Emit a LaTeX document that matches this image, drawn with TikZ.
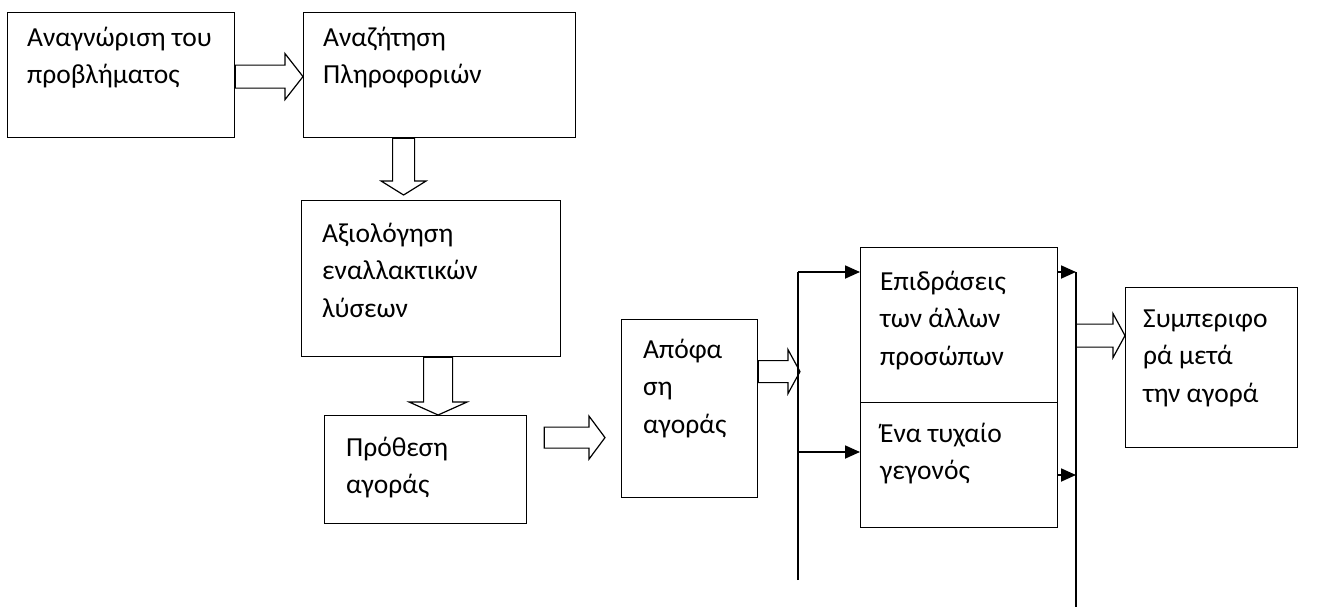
\documentclass[tikz,border=0pt]{standalone}
\usepackage{fontspec}
\setmainfont{Carlito}
\usetikzlibrary{calc,positioning,arrows.meta}

\newcommand\lns[1]{\begin{tabular}[t]{@{}l@{}}#1\end{tabular}}

\tikzset{
  box/.style={draw, line width=1.2pt, anchor=north west, inner sep=0pt},
  txt/.style={anchor=base west, inner sep=0pt, font=\fontsize{27.5}{37.5}\selectfont},
  fat/.style={draw, line width=1.2pt, fill=white, line join=miter},
  wire/.style={line width=1.8pt},
  tip/.style={-{Triangle[length=15pt,width=13pt]}},
  fatright/.style n args={3}{to path={($(\tikztostart)+(0,#1)$) -- ($(\tikztotarget)+(-#3,#1)$) -- ($(\tikztotarget)+(-#3,#2)$) -- (\tikztotarget) -- ($(\tikztotarget)+(-#3,-#2)$) -- ($(\tikztotarget)+(-#3,-#1)$) -- ($(\tikztostart)+(0,-#1)$) -- cycle}},
  fatdown/.style n args={3}{to path={($(\tikztostart)+(#1,0)$) -- ($(\tikztotarget)+(#1,-#3)$) -- ($(\tikztotarget)+(#2,-#3)$) -- (\tikztotarget) -- ($(\tikztotarget)+(-#2,-#3)$) -- ($(\tikztotarget)+(-#1,-#3)$) -- ($(\tikztostart)+(-#1,0)$) -- cycle}},
}

\begin{document}
\begin{tikzpicture}[x=1pt, y=-1pt] % pixel units, y downwards
\useasboundingbox (0,0) rectangle (1339,608);

\node[box, minimum width=227pt, minimum height=125pt] (b1) at (7,12) {};
\node[box, minimum width=272pt, minimum height=125pt] (b2) at (303,12) {};
\node[box, minimum width=259pt, minimum height=156pt] (b3) at (301,200) {};
\node[box, minimum width=202pt, minimum height=108pt] (b4) at (324,415) {};
\node[box, minimum width=136pt, minimum height=178pt] (b5) at (621,319) {};
\node[box, minimum width=197pt, minimum height=155pt] (b6) at (860,247) {};
\node[box, minimum width=197pt, minimum height=125pt] (b7) at (860,402) {};
\node[box, minimum width=172pt, minimum height=160pt] (b8) at (1125,287) {};

\node[txt] (t1) at ([shift={(20,34)}]b1.north west) {\lns{Αναγνώριση του\\προβλήματος}};
\node[txt] (t2) at ([shift={(20,34)}]b2.north west) {\lns{Αναζήτηση\\Πληροφοριών}};
\node[txt] (t3) at ([shift={(21,42)}]b3.north west) {\lns{Αξιολόγηση\\εναλλακτικών\\λύσεων}};
\node[txt] (t4) at ([shift={(22,41)}]b4.north west) {\lns{Πρόθεση\\αγοράς}};
\node[txt] (t5) at ([shift={(22,39)}]b5.north west) {\lns{Απόφα\\ση\\αγοράς}};
\node[txt] (t6) at ([shift={(20,43)}]b6.north west) {\lns{Επιδράσεις\\των άλλων\\προσώπων}};
\node[txt] (t7) at ([shift={(20,40)}]b7.north west) {\lns{Ένα τυχαίο\\γεγονός}};
\node[txt] (t8) at ([shift={(18,40)}]b8.north west) {\lns{Συμπεριφο\\ρά μετά\\την αγορά}};

% the two bus lines
\coordinate (v1t) at (798,272); \coordinate (v1m) at (798,452); \coordinate (v1b) at (798,580);
\coordinate (v2t) at (1076,272); \coordinate (v2m) at (1076,475); \coordinate (v2b) at (1076,607);

% block arrows
\coordinate (a1s) at ([yshift=-1.5pt]b1.east);   \coordinate (a1e) at (a1s -| b2.west);
\coordinate (a2s) at ([xshift=-36pt]b2.south);   \coordinate (a2e) at ([yshift=5pt]a2s |- b3.north);
\coordinate (a3s) at ([xshift=7pt]b3.south);     \coordinate (a3e) at (a3s |- b4.north);
\coordinate (a4s) at ([shift={(17,-32)}]b4.east); \coordinate (a4e) at ([xshift=-16pt]a4s -| b5.west);
\coordinate (a5s) at ([yshift=37pt]b5.east);     \coordinate (a5e) at ([xshift=2pt]a5s -| v1t);
\coordinate (a6e) at ([yshift=32pt]b8.west);     \coordinate (a6s) at (a6e -| v2t);

\draw[fat] (a1s) to[fatright={11.5}{23}{18}] (a1e);
\draw[fat] (a2s) to[fatdown={11}{22.5}{14}] (a2e);
\draw[fat] (a3s) to[fatdown={14.5}{29}{13}] (a3e);
\draw[fat] (a4s) to[fatright={10.5}{21.5}{16}] (a4e);
\draw[fat] (a5s) to[fatright={11}{22}{12}] (a5e);
\draw[fat] (a6s) to[fatright={11.5}{22}{12}] (a6e);

\draw[wire] (v1b) -- (v1t);
\draw[wire, tip] (v1t) -- (v1t -| b6.west);
\draw[wire, tip] (v1m) -- (v1m -| b7.west);

\draw[wire] (v2t) -- (v2b);
\draw[wire, tip] (v2t -| b6.east) -- (v2t);
\draw[wire, tip] (v2m -| b7.east) -- (v2m);

\end{tikzpicture}
\end{document}
